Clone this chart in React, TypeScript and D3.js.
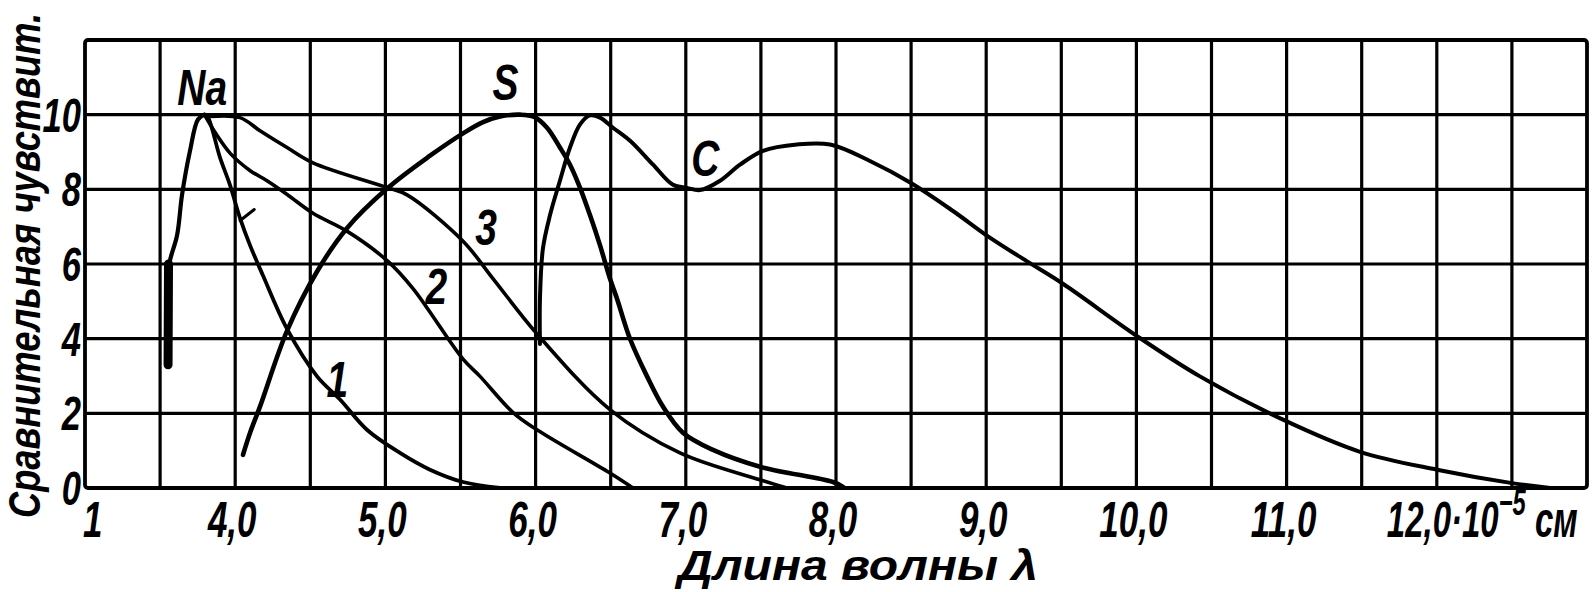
import * as d3 from "d3";

type Pt = [number, number];

// relative sensitivity curves (x in 10^-5 cm, y in relative units)
const naSpike: Pt[] = [[3.553, 3.3], [3.556, 6.0]];
const naCurve: Pt[] = [[3.556, 5.8], [3.566, 6.1], [3.613, 6.77], [3.646, 7.85], [3.699, 9.03], [3.752, 9.87], [3.795, 10.0]];
const curve1: Pt[] = [[3.795, 10.0], [3.819, 9.92], [3.899, 8.85], [3.965, 8.12], [4.032, 7.23], [4.099, 6.5], [4.185, 5.69], [4.345, 4.26], [4.545, 2.99], [4.698, 2.37], [4.877, 1.56], [5.097, 0.94], [5.297, 0.49], [5.517, 0.16], [5.763, 0]];
const curve2: Pt[] = [[3.795, 10.0], [3.87, 9.5], [3.97, 8.95], [4.1, 8.5], [4.212, 8.23], [4.35, 7.85], [4.518, 7.36], [4.744, 6.88], [5.017, 6.07], [5.184, 5.34], [5.517, 3.45], [5.63, 2.99], [5.85, 2.02], [6.009, 1.56], [6.495, 0.4], [6.648, 0]];
const curve3: Pt[] = [[3.83, 9.95], [4.032, 9.92], [4.165, 9.57], [4.345, 9.12], [4.518, 8.71], [5.017, 8.04], [5.144, 7.85], [5.517, 6.61], [5.716, 5.61], [6.009, 4.13], [6.495, 2.1], [6.961, 0.94], [7.494, 0.22], [7.674, 0]];
const curveS: Pt[] = [[4.052, 0.89], [4.099, 1.48], [4.165, 2.18], [4.345, 4.21], [4.545, 5.8], [4.744, 6.96], [5.017, 8.04], [5.297, 8.9], [5.517, 9.5], [5.65, 9.8], [5.763, 9.95], [5.9, 10.0], [5.99, 9.94], [6.076, 9.65], [6.162, 9.12], [6.229, 8.66], [6.296, 8.04], [6.362, 7.31], [6.429, 6.5], [6.495, 5.61], [6.542, 5.07], [6.629, 3.99], [6.742, 2.99], [6.848, 2.18], [6.981, 1.48], [7.181, 1.02], [7.494, 0.57], [7.98, 0.16], [8.047, 0.03]];
const curveC: Pt[] = [[6.029, 3.86], [6.029, 5.07], [6.049, 6.42], [6.096, 7.31], [6.162, 8.23], [6.229, 9.12], [6.296, 9.74], [6.362, 9.98], [6.429, 9.92], [6.515, 9.65], [6.629, 9.3], [6.782, 8.66], [6.915, 8.12], [7.008, 8.04], [7.095, 7.98], [7.228, 8.23], [7.361, 8.66], [7.514, 9.03], [7.74, 9.2], [7.96, 9.2], [8.226, 8.76], [8.499, 8.17], [8.779, 7.42], [9.012, 6.74], [9.272, 6.07], [9.511, 5.47], [10.004, 4.07], [10.423, 2.99], [10.976, 1.83], [11.489, 0.97], [12.002, 0.49], [12.501, 0.13], [12.754, 0]];

// curve names placed next to the lines (data coords)
const curveLabels = ["Na", "S", "C", "3", "2", "1"];
const curveLabelX = [3.78, 5.8, 7.13, 5.67, 5.34, 4.68];
const curveLabelY = [10.25, 10.38, 8.36, 6.5, 4.93, 2.45];

const xTickValues = [3, 4, 5, 6, 7, 8, 9, 10, 11];
const xTickLabels = ["1", "4,0", "5,0", "6,0", "7,0", "8,0", "9,0", "10,0", "11,0"];
const lastTick = 12;
const lastTickLabel = "12,0·10";
const unitExp = "−5";
const unitName = " см";
const yTickValues = [0, 2, 4, 6, 8, 10];

const xTitle = "Длина волны λ";
const yTitle = "Сравнительная чувствит.";

const W = 1594;
const H = 592;
const FONT = "'Liberation Sans', Arial, sans-serif";

export default function App() {
  const x = d3.scaleLinear().domain([3, 13]).range([85, 1587]);
  const y = d3.scaleLinear().domain([0, 12]).range([488, 40]);

  const line = d3
    .line<Pt>()
    .x(d => x(d[0]))
    .y(d => y(d[1]))
    .curve(d3.curveCatmullRom.alpha(0.5));

  const vGrid = d3.range(3.5, 13, 0.5);
  const hGrid = d3.range(2, 12, 2);

  const series: { pts: Pt[]; w: number }[] = [
    { pts: naCurve, w: 4.2 },
    { pts: curve1, w: 3.8 },
    { pts: curve2, w: 3.6 },
    { pts: curve3, w: 3.6 },
    { pts: curveS, w: 4.6 },
    { pts: curveC, w: 4 },
  ];

  const tick = x(4.06);
  const tickY = y(7.3);

  return (
    <svg
      width={W}
      height={H}
      style={{ position: "absolute", left: 0, top: 0, background: "#fff" }}
    >
      {/* grid */}
      <g stroke="#000" strokeWidth={3.2}>
        {vGrid.map(v => (
          <line key={"v" + v} x1={x(v)} x2={x(v)} y1={y(12)} y2={y(0)} />
        ))}
        {hGrid.map(v => (
          <line key={"h" + v} x1={x(3)} x2={x(13)} y1={y(v)} y2={y(v)} />
        ))}
      </g>
      <rect
        x={x(3)}
        y={y(12)}
        width={x(13) - x(3)}
        height={y(0) - y(12)}
        rx={3}
        fill="none"
        stroke="#000"
        strokeWidth={3.8}
      />

      {/* curves */}
      <g fill="none" stroke="#000" strokeLinecap="round" strokeLinejoin="round">
        {series.map((s, i) => (
          <path key={i} d={line(s.pts) || ""} strokeWidth={s.w} />
        ))}
        <path d={line(naSpike) || ""} strokeWidth={9} />
        <line x1={tick - 4} y1={tickY + 5} x2={tick + 10} y2={tickY - 6} strokeWidth={3} />
      </g>

      {/* curve labels */}
      <g fontFamily={FONT} fontWeight="bold" fontStyle="italic" fontSize={50} fill="#000">
        {curveLabels.map((t, i) => (
          <text
            key={t}
            textAnchor="middle"
            transform={`translate(${x(curveLabelX[i])},${y(curveLabelY[i])}) scale(0.78,1)`}
          >
            {t}
          </text>
        ))}
      </g>

      {/* y ticks */}
      <g fontFamily={FONT} fontWeight="bold" fontStyle="italic" fontSize={48} fill="#000">
        {yTickValues.map(v => (
          <text key={v} textAnchor="end" transform={`translate(81,${y(v) + 17}) scale(0.72,1)`}>
            {v}
          </text>
        ))}
      </g>

      {/* x ticks */}
      <g fontFamily={FONT} fontWeight="bold" fontStyle="italic" fontSize={50} fill="#000">
        {xTickValues.map((v, i) => (
          <text
            key={v}
            textAnchor={i === 0 ? "start" : "middle"}
            transform={`translate(${i === 0 ? x(v) - 2 : x(v) - 3},537) scale(0.7,1)`}
          >
            {xTickLabels[i]}
          </text>
        ))}
        <text transform={`translate(${x(lastTick) - 50},537) scale(0.66,1)`}>
          {lastTickLabel}
          <tspan dy={-22} fontSize={36}>{unitExp}</tspan>
          <tspan dy={22}>{unitName}</tspan>
        </text>
      </g>

      {/* axis titles */}
      <text
        x={858}
        y={580}
        textAnchor="middle"
        fontFamily={FONT}
        fontWeight="bold"
        fontStyle="italic"
        fontSize={42}
        textLength={360}
        lengthAdjust="spacingAndGlyphs"
      >
        {xTitle}
      </text>
      <text
        transform="translate(40,518) rotate(-90)"
        fontFamily={FONT}
        fontWeight="bold"
        fontStyle="italic"
        fontSize={44}
        textLength={505}
        lengthAdjust="spacingAndGlyphs"
      >
        {yTitle}
      </text>
    </svg>
  );
}
